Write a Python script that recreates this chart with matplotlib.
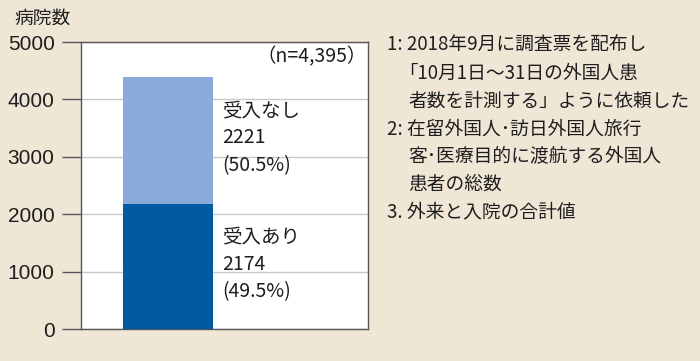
import matplotlib
matplotlib.use("Agg")
import matplotlib.pyplot as plt

plt.rcParams['font.family'] = ['Noto Sans CJK JP', 'DejaVu Sans']

# data
categories = ['受入あり', '受入なし']
counts = [2174, 2221]
shares = ['49.5%', '50.5%']
colors = ['#005ba3', '#8aabd9']
total_label = '（n=4,395）'
y_ticks = [0, 1000, 2000, 3000, 4000, 5000]
y_title = '病院数'
notes = [
    ('1:', ['2018年9月に調査票を配布し', '｢10月1日～31日の外国人患', '者数を計測する」ように依頼した']),
    ('2:', ['在留外国人･訪日外国人旅行', '客･医療目的に渡航する外国人', '患者の総数']),
    ('3.', ['外来と入院の合計値']),
]

bg = '#efe6d5'
txt = '#1e1e1e'
fig = plt.figure(figsize=(7, 3.61), dpi=100, facecolor=bg)
ax = fig.add_axes([0.1157, 0.0886, 0.41, 0.795])
ax.set_facecolor('white')

# stacked bar with labels to the right of each segment
bar_x = 0.303
bottom = 0
for cat, val, share, col in zip(categories, counts, shares, colors):
    ax.bar(bar_x, val, width=0.314, bottom=bottom, color=col, zorder=3)
    lines = [cat, str(val), '(' + share + ')']
    for k, line in enumerate(lines):
        ax.annotate(line, xy=(0.491, bottom + val / 2), textcoords='offset pixels',
                    xytext=(0, 30 - 27.5 * k), ha='left', va='center',
                    fontsize=14, color=txt)
    bottom += val

ax.text(0.995, 0.948, total_label, transform=ax.transAxes, ha='right', va='center',
        fontsize=14, color=txt)

ax.set_xlim(0, 1)
ax.set_ylim(0, 5000)
ax.set_yticks(y_ticks)
ax.set_yticklabels([str(t) for t in y_ticks], fontsize=15, color=txt,
                   family=['Liberation Sans', 'DejaVu Sans'])
ax.set_xticks([])
ax.tick_params(axis='y', length=14, width=1, color='#555555', pad=5)
ax.yaxis.grid(True, color='#c8c8c8', linewidth=1, zorder=0)
for s in ax.spines.values():
    s.set_color('#555555')
    s.set_linewidth(1)

fig.text(0.021, 0.95, y_title, ha='left', va='center', fontsize=13.5, color=txt)

# footnotes
row = 0
for prefix, lines in notes:
    for k, line in enumerate(lines):
        if k == 0:
            fig.text(0.553, 0.873 - row * 0.0765, prefix + ' ' + line, ha='left', va='center',
                     fontsize=13.5, color=txt)
        else:
            fig.text(0.583, 0.873 - row * 0.0765, line, ha='left', va='center',
                     fontsize=13.5, color=txt)
        row += 1

fig.savefig('out.png', dpi=100, facecolor=bg)
